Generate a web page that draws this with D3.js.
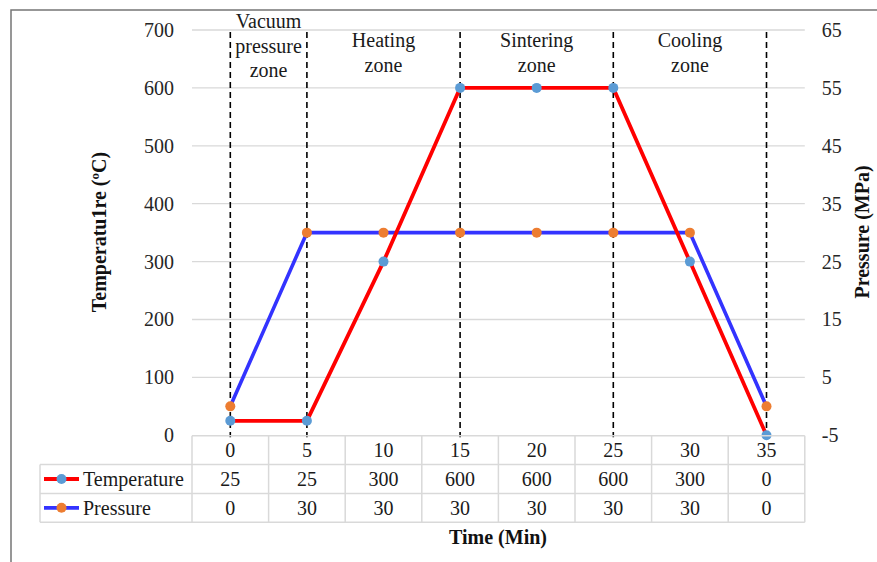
<!DOCTYPE html>
<html><head><meta charset="utf-8">
<script src="https://cdn.jsdelivr.net/npm/d3@7"></script>
<style>body{margin:0;background:#fff}svg{display:block}text{font-family:"Liberation Serif","Times New Roman",serif !important}</style>
</head><body><svg id="c" width="877" height="562"></svg>
<script>
const categories = [0,5,10,15,20,25,30,35];
const temperature = [25,25,300,600,600,600,300,0];
const pressure = [0,30,30,30,30,30,30,0];
const leftTicks = [0,100,200,300,400,500,600,700];
const rightTicks = [-5,5,15,25,35,45,55,65];
const zoneBoundaries = [0,5,15,25,35];
const zoneLabels = [["Vacuum","pressure","zone"],["Heating","zone"],["Sintering","zone"],["Cooling","zone"]];
const zoneAnchors = [2.5,10,20,30];
const seriesNames = ["Temperature","Pressure"];

const svg = d3.select("#c");
const L=192, R=804.8, T=30, B=435.3;
const x = d3.scaleBand().domain(categories).range([L,R]);
const bw = x.bandwidth();
const cx = v => x(v)+bw/2;
const xc = d3.scaleLinear().domain([0,5]).range([cx(0),cx(5)]);
const yL = d3.scaleLinear().domain([0,700]).range([B,T]);
const yR = d3.scaleLinear().domain([-5,65]).range([B,T]);
const FS = 20;

// outer frame
svg.append("rect").attr("x",11).attr("y",10).attr("width",900).attr("height",600)
  .attr("fill","none").attr("stroke","#767676").attr("stroke-width",1.5);

// gridlines
svg.append("g").selectAll("line").data(leftTicks.slice(1)).join("line")
  .attr("x1",L).attr("x2",R).attr("y1",d=>yL(d)).attr("y2",d=>yL(d))
  .attr("stroke","#d9d9d9").attr("stroke-width",1.3);

// left axis
const ga = svg.append("g").attr("transform",`translate(${L-18},0)`)
  .call(d3.axisLeft(yL).tickValues(leftTicks).tickFormat(d=>String(d)).tickSize(0).tickPadding(0));
ga.select(".domain").remove();
ga.selectAll("text").attr("font-size",FS).attr("fill","#262626").attr("dy","0.32em");

// right axis
const gr = svg.append("g").attr("transform",`translate(${R+17},0)`)
  .call(d3.axisRight(yR).tickValues(rightTicks).tickFormat(d=>String(d)).tickSize(0).tickPadding(0));
gr.select(".domain").remove();
gr.selectAll("text").attr("font-size",FS).attr("fill","#262626").attr("dy","0.32em");

// axis titles
svg.append("text").attr("transform",`translate(106,232) rotate(-90)`).attr("text-anchor","middle")
  .attr("font-size",FS).attr("font-weight","bold").attr("fill","#111").text("Temperatu1re (ºC)");
svg.append("text").attr("transform",`translate(869,232) rotate(-90)`).attr("text-anchor","middle")
  .attr("font-size",FS).attr("font-weight","bold").attr("fill","#111").text("Pressure (MPa)");
svg.append("text").attr("x",498).attr("y",544).attr("text-anchor","middle")
  .attr("font-size",FS).attr("font-weight","bold").attr("fill","#111").text("Time (Min)");

// dashed zone boundaries
svg.append("g").selectAll("line").data(zoneBoundaries).join("line")
  .attr("x1",d=>cx(d)).attr("x2",d=>cx(d)).attr("y1",T+2).attr("y2",B+2)
  .attr("stroke","#000").attr("stroke-width",1.6).attr("stroke-dasharray","6,4");

// zone labels
zoneLabels.forEach((lines,i)=>{
  const t = svg.append("text").attr("text-anchor","middle").attr("font-size",FS).attr("fill","#1a1a1a");
  const y0 = lines.length===3 ? 28 : 47;
  lines.forEach((s,j)=>t.append("tspan").attr("x",xc(zoneAnchors[i])).attr("y",y0+j*24.5).text(s));
});

// lines
const red="#ff0000", blue="#3333ff", mBlue="#5b9bd5", mOrange="#ed7d31";
const lp = d3.line().x(d=>cx(d[0])).y(d=>yR(d[1]));
const lt = d3.line().x(d=>cx(d[0])).y(d=>yL(d[1]));
const pData = categories.map((c,i)=>[c,pressure[i]]);
const tData = categories.map((c,i)=>[c,temperature[i]]);
svg.append("path").attr("d",lp(pData)).attr("fill","none").attr("stroke",blue).attr("stroke-width",3.6).attr("stroke-linejoin","round");
svg.append("path").attr("d",lt(tData)).attr("fill","none").attr("stroke",red).attr("stroke-width",3.8).attr("stroke-linejoin","round");
svg.append("g").selectAll("circle").data(tData).join("circle")
  .attr("cx",d=>cx(d[0])).attr("cy",d=>yL(d[1])).attr("r",5).attr("fill",mBlue);
svg.append("g").selectAll("circle").data(pData).join("circle")
  .attr("cx",d=>cx(d[0])).attr("cy",d=>yR(d[1])).attr("r",5).attr("fill",mOrange);

// data table
const rowH = 28.8, tTop = B+0.5, tLeft = 40;
const tg = svg.append("g");
const gridC = "#d9d9d9";
[0,1,2,3].forEach(k=>{
  tg.append("line").attr("x1",k===0?L:tLeft).attr("x2",R).attr("y1",tTop+k*rowH).attr("y2",tTop+k*rowH)
    .attr("stroke",gridC).attr("stroke-width",1.5);
});
tg.append("line").attr("x1",tLeft).attr("x2",tLeft).attr("y1",tTop+rowH).attr("y2",tTop+3*rowH).attr("stroke",gridC).attr("stroke-width",1.5);
categories.concat([null]).forEach((c,i)=>{
  const xx = c===null ? R : x(c);
  tg.append("line").attr("x1",xx).attr("x2",xx).attr("y1",tTop).attr("y2",tTop+3*rowH).attr("stroke",gridC).attr("stroke-width",1.5);
});
const rows = [categories, temperature, pressure];
rows.forEach((r,ri)=>{
  tg.append("g").selectAll("text").data(r.map((v,i)=>[categories[i],v])).join("text")
    .attr("x",d=>cx(d[0])).attr("y",tTop+ri*rowH+rowH/2).attr("dy","0.35em")
    .attr("text-anchor","middle").attr("font-size",FS).attr("fill","#1a1a1a").text(d=>d[1]);
});
const keys = [{name:seriesNames[0],line:red,m:mBlue},{name:seriesNames[1],line:blue,m:mOrange}];
keys.forEach((k,i)=>{
  const yy = tTop+(i+1)*rowH+rowH/2;
  tg.append("line").attr("x1",44).attr("x2",79).attr("y1",yy).attr("y2",yy).attr("stroke",k.line).attr("stroke-width",3.8);
  tg.append("circle").attr("cx",61.5).attr("cy",yy).attr("r",5).attr("fill",k.m);
  tg.append("text").attr("x",83).attr("y",yy).attr("dy","0.35em").attr("font-size",FS).attr("fill","#1a1a1a").text(k.name);
});
</script></body></html>
